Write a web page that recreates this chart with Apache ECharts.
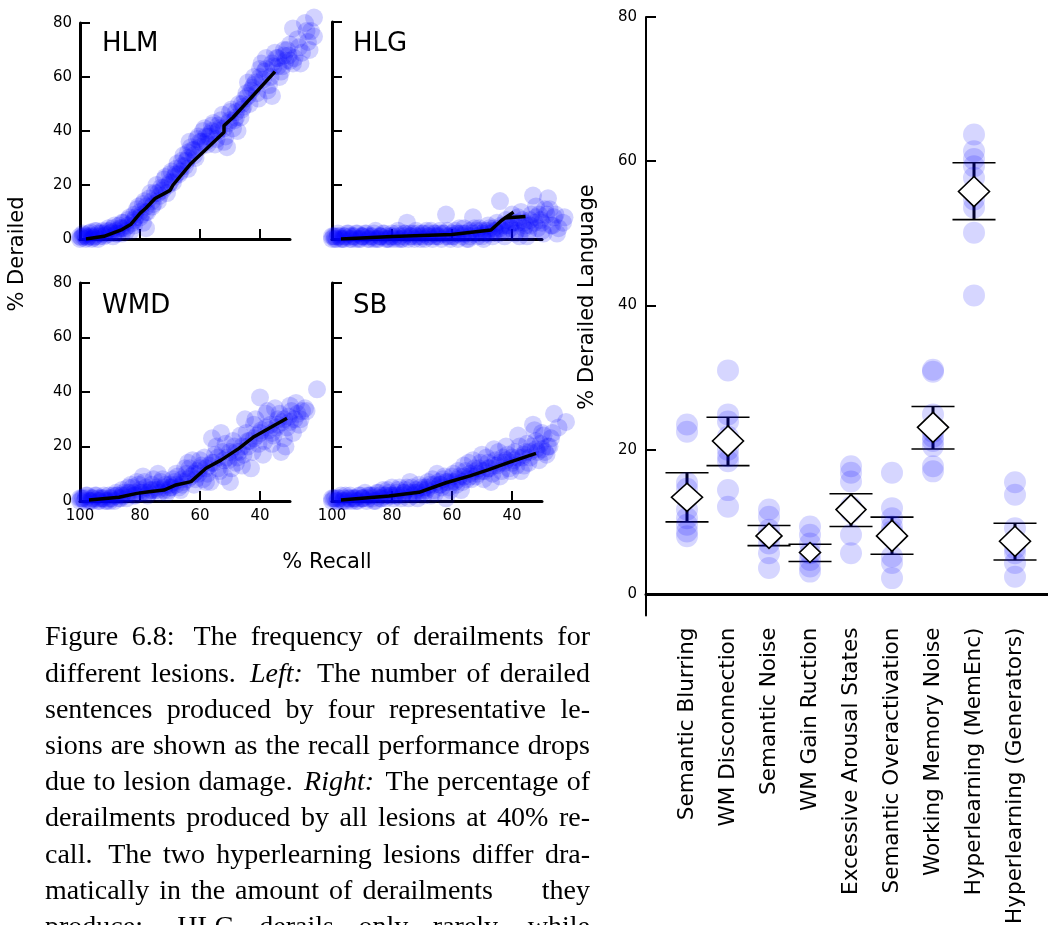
<!DOCTYPE html>
<html>
<head>
<meta charset="utf-8">
<script src="https://cdn.jsdelivr.net/npm/echarts@6/dist/echarts.min.js"></script>
<style>
html,body{margin:0;padding:0;background:#fff;}
#chart{width:1048px;height:925px;}
</style>
</head>
<body>
<div id="chart"></div>
<script>
// ---------------- DATA ----------------
const panelNames = ['HLM', 'HLG', 'WMD', 'SB'];
const recallTicks = [100, 80, 60, 40];
const derailTicks = [0, 20, 40, 60, 80];

// [recall %, derailed %]
const hlmPoints = [[100,0],[99,1],[99,2],[98,0],[97,1],[97,2],[96,0],[95,1],[95,3],[94,0],[93,2],[92,1],[91,3],[90,2],[89,1],[89,4],[88,3],[87,5],[86,2],[86,6],[85,4],[84,7],[83,3],[82,9],[82,5],[81,11],[80,8],[79,13],[79,6],[78,4],[78,10],[77,15],[76,12],[75,17],[74,14],[73,19],[72,22],[71,17],[70,24],[69,21],[68,26],[67,24],[66,29],[65,27],[64,32],[64,26],[63,34],[62,31],[61,37],[60,34],[59,40],[58,36],[57,38],[56,42],[55,35],[54,40],[53,44],[52,36],[51,34],[50,47],[49,41],[48,45],[47,50],[46,48],[45,52],[44,58],[43,55],[42,60],[41,54],[40,63],[39,59],[38,67],[37,57],[36,53],[35,69],[34,64],[33,62],[32,68],[31,70],[30,66],[29,78],[29,65],[27,71],[26,69],[25,80],[24,73],[23,77],[22,82],[22,75],
  [99.5,0.5],[98.5,1.5],[97.5,0.5],[96.5,2.5],[95.5,0.5],[94.5,3],[93.5,1],[92.5,3],[91.5,1.5],[90.5,4],[89.5,2.5],[88.5,5],[87.5,2],[86.5,4],[85.5,6],[84.5,3],[83.5,8],[82.5,6],[81.5,8],[80.5,12],[79.5,9],[78.5,14],[77.5,10],[76.5,17],[75.5,13],[74.5,20],[73.5,16],[72.5,18],[71.5,23],[70.5,20],[69.5,25],[68.5,23],[67.5,28],[66.5,25],[65.5,31],[64.5,29],[63.5,36],[62.5,33],[61.5,30],[60.5,38],[59.5,36],[58.5,41],[57.5,35],[56.5,39],[55.5,43],[54.5,37],[53.5,41],[52.5,46],[51.5,38],[50.5,43],[49.5,48],[48.5,44],[47.5,40],[46.5,45],[45.5,49],[44.5,54],[43.5,50],[42.5,56],[41.5,58],[40.5,52],[39.5,65],[38.5,62],[37.5,55],[36.5,60],[35.5,64],[34.5,67],[33.5,60],[32.5,64],[31.5,66],[30.5,68],[28.5,67],[27.5,74],[26.5,65],[24.5,77],[23.5,70],
  [100,1],[98,1],[96,1],[94,2],[92,2],[90,3],[88,2],[86,4],[84,5],[82,7],[80,10],[78,12],[76,14],[74,17],[72,19],[70,21],[68,24],[66,27],[64,30],[62,33],[60,36],[58,38],[56,40],[54,42],[52,41],[50,44],[48,47],[46,50],[44,53],[42,57],[40,60],[38,63],[36,65],[34,67],[32,70],[30,72]];
const hlmLine = [[98,0],[92,1],[86,3.5],[83,5.5],[80,9.5],[78,11.5],[75,15],[70,18],[69,20],[63,28],[52,39.5],[52,42],[49,45],[35,62]];

const hlgPoints = [[100,0],[99,1],[99,0],[98,2],[97,0],[96,1],[95,2],[94,0],[93,1],[92,2],[91,0],[90,1],[89,2],[88,0],[87,1],[86,2],[85,0],[84,1],[83,2],[82,1],[81,0],[80,2],[79,1],[78,3],[77,0],[76,2],[75,6],[74,1],[73,2],[72,3],[71,1],[70,2],[69,0],[68,1],[67,3],[66,2],[65,1],[64,3],[63,2],[62,9],[61,1],[60,2],[59,3],[58,0],[57,2],[56,4],[55,0],[54,3],[53,8],[52,2],[51,4],[50,1],[49,3],[48,5],[47,2],[46,4],[45,6],[44,14],[43,3],[42,7],[41,5],[40,9],[39,2],[38,6],[37,10],[36,4],[35,1],[34,7],[33,16],[32,12],[31,9],[30,3],[29,11],[28,15],[27,5],[26,8],[25,2],[23,6],
  [99.5,1],[98.5,0],[97.5,1],[96.5,0],[95.5,1],[94.5,2],[93.5,0],[92.5,1],[91.5,2],[90.5,0],[89.5,1],[88.5,2],[87.5,0],[86.5,1],[85.5,3],[84.5,0],[83.5,1],[82.5,2],[81.5,0],[80.5,1],[79.5,0],[78.5,2],[77.5,1],[76.5,0],[75.5,2],[74.5,0],[73.5,1],[72.5,0],[71.5,2],[70.5,0],[69.5,2],[68.5,3],[67.5,1],[66.5,0],[65.5,2],[64.5,1],[63.5,0],[62.5,2],[61.5,3],[60.5,0],[59.5,1],[58.5,2],[57.5,4],[56.5,1],[55.5,2],[54.5,0],[53.5,2],[52.5,4],[51.5,1],[50.5,3],[49.5,0],[48.5,2],[47.5,4],[46.5,1],[45.5,3],[44.5,2],[43.5,5],[42.5,1],[41.5,3],[40.5,4],[39.5,6],[38.5,3],[37.5,1],[36.5,7],[35.5,5],[34.5,3],[33.5,9],[32.5,6],[31.5,4],[30.5,7],[29.5,2],[28.5,9],[27.5,11],[26.5,5],[25.5,9],[24.5,4],[22.5,8],
  [100,1],[98,1],[96,0],[94,1],[92,0],[90,1],[88,1],[86,0],[84,1],[82,0],[80,1],[78,0],[76,1],[74,2],[72,1],[70,1],[68,2],[66,1],[64,2],[62,1],[60,1],[58,2],[56,2],[54,1],[52,3],[50,2],[48,3],[46,3],[44,4],[42,5],[40,6],[38,8],[36,6],[34,5],[32,8],[30,6]];
const hlgLine = [[97,0],[80,0.9],[60,1.7],[47,3.3],[43.5,6.8],[39.5,9.9],[42.5,7.7],[35.5,8.3]];

const wmdPoints = [[100,0],[99,1],[98,2],[97,0],[96,1],[95,2],[94,0],[93,1],[92,2],[91,0],[90,1],[89,2],[88,3],[87,1],[86,4],[85,2],[84,5],[83,6],[82,3],[81,7],[80,4],[79,9],[78,5],[77,3],[76,6],[75,4],[74,10],[73,7],[72,5],[71,3],[70,6],[69,8],[68,10],[67,5],[66,8],[65,12],[64,14],[63,9],[62,6],[61,11],[60,15],[59,8],[58,7],[57,13],[56,23],[55,17],[54,12],[53,25],[52,9],[51,16],[50,7],[49,22],[48,14],[47,18],[46,13],[45,30],[44,20],[43,12],[42,28],[41,24],[40,38],[39,17],[38,32],[37,26],[36,21],[35,34],[34,30],[33,18],[32,23],[31,27],[30,35],[29,25],[28,36],[27,28],[26,33],[25,34],[21,41],
  [99.5,1],[98.5,0],[97.5,2],[96.5,0],[95.5,1],[94.5,2],[93.5,0],[92.5,1],[91.5,0],[90.5,2],[89.5,1],[88.5,0],[87.5,2],[86.5,1],[85.5,3],[84.5,1],[83.5,3],[82.5,5],[81.5,2],[80.5,6],[79.5,3],[78.5,7],[77.5,2],[76.5,4],[75.5,8],[74.5,5],[73.5,3],[72.5,8],[71.5,6],[70.5,4],[69.5,5],[68.5,7],[67.5,9],[66.5,4],[65.5,7],[64.5,10],[63.5,12],[62.5,15],[61.5,8],[60.5,10],[59.5,13],[58.5,16],[57.5,10],[56.5,7],[55.5,14],[54.5,20],[53.5,11],[52.5,18],[51.5,21],[50.5,15],[49.5,12],[48.5,20],[47.5,16],[46.5,24],[45.5,17],[44.5,25],[43.5,22],[42.5,18],[41.5,30],[40.5,21],[39.5,26],[38.5,22],[37.5,33],[36.5,28],[35.5,24],[34.5,27],[33.5,32],[32.5,29],[31.5,20],[30.5,31],[29.5,33],[28.5,30],[27.5,32],[26.5,30],[24.5,33],
  [100,1],[98,1],[96,0],[94,1],[92,1],[90,0],[88,2],[86,2],[84,3],[82,2],[80,3],[78,3],[76,4],[74,4],[72,4],[70,5],[68,6],[66,6],[64,8],[62,10],[60,12],[58,12],[56,14],[54,16],[52,15],[50,18],[48,18],[46,20],[44,22],[42,23],[40,25],[38,27],[36,25],[34,28],[32,30],[30,29]];
const wmdLine = [[97,0.4],[87,1.4],[81,2.8],[77,3.4],[72,4],[68,5.9],[63,7.1],[58,12],[53,15],[47,19.3],[42,23.6],[31,30.4]];

const sbPoints = [[100,0],[99,1],[98,0],[97,2],[96,1],[95,0],[94,2],[93,1],[92,0],[91,2],[90,1],[89,3],[88,1],[87,2],[86,0],[85,3],[84,2],[83,4],[82,1],[81,3],[80,5],[79,2],[78,4],[77,1],[76,3],[75,5],[74,7],[73,2],[72,4],[71,6],[70,3],[69,5],[68,7],[67,2],[66,4],[65,10],[64,6],[63,8],[62,1],[61,5],[60,9],[59,7],[58,11],[57,4],[56,13],[55,8],[54,10],[53,15],[52,9],[51,12],[50,17],[49,11],[48,14],[47,7],[46,19],[45,13],[44,9],[43,16],[42,20],[41,12],[40,14],[39,18],[38,24],[37,11],[36,13],[35,21],[34,16],[33,28],[32,22],[31,15],[30,25],[29,18],[28,20],[27,23],[26,32],[22,29],
  [99.5,1],[98.5,0],[97.5,1],[96.5,0],[95.5,2],[94.5,1],[93.5,0],[92.5,1],[91.5,0],[90.5,2],[89.5,1],[88.5,0],[87.5,2],[86.5,1],[85.5,0],[84.5,3],[83.5,1],[82.5,2],[81.5,4],[80.5,2],[79.5,1],[78.5,3],[77.5,5],[76.5,2],[75.5,4],[74.5,1],[73.5,5],[72.5,3],[71.5,1],[70.5,5],[69.5,2],[68.5,4],[67.5,6],[66.5,8],[65.5,3],[64.5,7],[63.5,5],[62.5,9],[61.5,7],[60.5,4],[59.5,10],[58.5,6],[57.5,9],[56.5,7],[55.5,11],[54.5,14],[53.5,8],[52.5,12],[51.5,10],[50.5,14],[49.5,8],[48.5,16],[47.5,12],[46.5,10],[45.5,15],[44.5,18],[43.5,11],[42.5,14],[41.5,17],[40.5,11],[39.5,15],[38.5,13],[37.5,20],[36.5,16],[35.5,18],[34.5,14],[33.5,20],[32.5,26],[31.5,18],[30.5,21],[29.5,24],[28.5,17],[27.5,20],[26.5,25],[24.5,27],
  [100,1],[98,1],[96,0],[94,1],[92,1],[90,1],[88,2],[86,2],[84,1],[82,2],[80,2],[78,2],[76,3],[74,3],[72,3],[70,4],[68,5],[66,6],[64,6],[62,7],[60,7],[58,8],[56,9],[54,9],[52,11],[50,11],[48,12],[46,13],[44,14],[42,15],[40,16],[38,16],[36,17],[34,18],[32,19],[30,19]];
const sbLine = [[97,0.4],[81,1.8],[71,3.2],[62,6.7],[54,9.2],[48,11.4],[41,14.2],[32,17.5]];

const lesions = ['Semantic Blurring','WM Disconnection','Semantic Noise','WM Gain Ruction','Excessive Arousal States','Semantic Overactivation','Working Memory Noise','Hyperlearning (MemEnc)','Hyperlearning (Generators)'];
const lesionSamples = [
  [23.5,22.5,15.4,14.6,11.7,10.5,9.6,8.65,8.0],
  [31.0,24.9,23.9,21.8,20.0,19.1,18.4,14.4,12.1],
  [11.7,10.7,8.9,8.0,7.0,5.65,3.6],
  [9.35,8.2,7.0,5.65,4.7,3.8,3.1],
  [17.7,16.8,15.6,12.1,11.4,8.2,5.65],
  [16.8,11.9,10.5,9.35,8.65,5.2,4.3,2.2],
  [31.1,30.8,24.9,22.5,21.8,21.2,20.5,17.7,17.0],
  [63.7,61.4,60.3,59.3,57.7,55.9,54.7,53.6,50.1,41.4],
  [15.5,13.75,9.1,7.3,6.35,5.65,4.3,2.4]
];
const lesionMeans = [13.4, 21.2, 8.05, 5.75, 11.7, 8.05, 23.1, 55.8, 7.3];
const lesionLow   = [10.0, 17.8, 6.7, 4.5, 9.35, 5.5, 20.1, 51.9, 4.7];
const lesionHigh  = [16.8, 24.5, 9.5, 6.9, 13.9, 10.65, 26.0, 59.8, 9.8];
const percentTicks = [0, 20, 40, 60, 80];

const captionLines = [
  'Figure 6.8: The frequency of derailments for',
  'different lesions. _Left:_ The number of derailed',
  'sentences produced by four representative le-',
  'sions are shown as the recall performance drops',
  'due to lesion damage. _Right:_ The percentage of',
  'derailments produced by all lesions at 40% re-',
  'call. The two hyperlearning lesions differ dra-',
  'matically in the amount of derailments|they',
  'produce: HLG derails only rarely, while'
];

// ---------------- STYLE / LAYOUT ----------------
const SANS = '"DejaVu Sans", sans-serif';
const SERIF = '"Liberation Serif", "Times New Roman", serif';
const diamondSizes = [[31,28],[31,30],[26,25],[21,20],[30,30],[31,31],[31,30],[31,30],[31,30]];
const panelGrids = [
  {left: 80, top: 23, width: 210, height: 216},
  {left: 332, top: 22, width: 210, height: 217},
  {left: 80, top: 283, width: 210, height: 218},
  {left: 332, top: 283, width: 210, height: 218}
];
const panelPoints = [hlmPoints, hlgPoints, wmdPoints, sbPoints];
const panelLines = [hlmLine, hlgLine, wmdLine, sbLine];
const titlePos = [[102, 44], [353, 44], [102, 306], [353, 306]];

const grids = panelGrids.concat([{left: 646, top: 17, width: 410, height: 598.6}])
  .map(g => Object.assign({outerBoundsMode: 'none', containLabel: false}, g));
const xAxes = [], yAxes = [], series = [];
panelGrids.forEach((g, i) => {
  xAxes.push({
    gridIndex: i, type: 'value', min: 30, max: 100, inverse: true,
    axisLine: {show: true, onZero: false, lineStyle: {color: '#000', width: 3}},
    axisTick: {show: true, inside: true, length: 10, customValues: recallTicks, lineStyle: {color: '#000', width: 2}},
    axisLabel: {show: i >= 2, customValues: recallTicks, color: '#000', fontSize: 15, fontFamily: SANS, margin: 8},
    splitLine: {show: false}
  });
  yAxes.push({
    gridIndex: i, type: 'value', min: 0, max: 80, interval: 20,
    axisLine: {show: true, onZero: false, lineStyle: {color: '#000', width: 3}},
    axisTick: {show: true, inside: true, length: 10, lineStyle: {color: '#000', width: 2}},
    axisLabel: {show: i % 2 === 0, color: '#000', fontSize: 15, fontFamily: SANS, margin: 8},
    splitLine: {show: false}
  });
  series.push({
    type: 'scatter', xAxisIndex: i, yAxisIndex: i, data: panelPoints[i],
    symbolSize: 18, clip: false, silent: true,
    itemStyle: {color: 'rgba(0,0,255,0.22)'}
  });
  series.push({
    type: 'line', xAxisIndex: i, yAxisIndex: i, data: panelLines[i],
    showSymbol: false, symbol: 'none', smooth: false, silent: true,
    lineStyle: {color: '#000', width: 3.5}
  });
});

// right panel
xAxes.push({
  gridIndex: 4, type: 'value', min: 0, max: 10,
  axisLine: {show: true, onZero: true, lineStyle: {color: '#000', width: 3}},
  axisTick: {show: false},
  axisLabel: {
    customValues: lesions.map((_, i) => i + 1),
    formatter: v => lesions[Math.round(v) - 1] || '',
    rotate: 90, color: '#000', fontSize: 21.5, fontFamily: SANS, margin: 12
  },
  splitLine: {show: false}
});
yAxes.push({
  gridIndex: 4, type: 'value', min: -3, max: 80,
  axisLine: {show: true, onZero: false, lineStyle: {color: '#000', width: 2}},
  axisTick: {show: true, inside: true, length: 10, customValues: percentTicks, lineStyle: {color: '#000', width: 2}},
  axisLabel: {customValues: percentTicks, color: '#000', fontSize: 15, fontFamily: SANS, margin: 9},
  splitLine: {show: false}
});

const sampleData = [];
lesionSamples.forEach((arr, i) => arr.forEach(v => sampleData.push([i + 1, v])));
series.push({
  type: 'scatter', xAxisIndex: 4, yAxisIndex: 4, data: sampleData,
  symbolSize: 22, silent: true, clip: false,
  itemStyle: {color: 'rgba(0,0,255,0.2)'}
});
series.push({
  type: 'custom', xAxisIndex: 4, yAxisIndex: 4, silent: true, clip: false,
  data: lesions.map((_, i) => [i + 1, lesionLow[i], lesionHigh[i]]),
  encode: {x: 0, y: [1, 2]},
  renderItem: function (params, api) {
    const x = api.value(0);
    const pLo = api.coord([x, api.value(1)]);
    const pHi = api.coord([x, api.value(2)]);
    const half = api.size([1.05, 0])[0] / 2;
    return {
      type: 'group',
      children: [
        {type: 'line', shape: {x1: pLo[0], y1: pLo[1], x2: pHi[0], y2: pHi[1]}, style: {stroke: '#000', lineWidth: 3}},
        {type: 'line', shape: {x1: pLo[0] - half, y1: pLo[1], x2: pLo[0] + half, y2: pLo[1]}, style: {stroke: '#000', lineWidth: 1.6}},
        {type: 'line', shape: {x1: pHi[0] - half, y1: pHi[1], x2: pHi[0] + half, y2: pHi[1]}, style: {stroke: '#000', lineWidth: 1.6}}
      ]
    };
  }
});
series.push({
  type: 'scatter', xAxisIndex: 4, yAxisIndex: 4, silent: true,
  data: lesionMeans.map((v, i) => [i + 1, v]),
  symbol: 'diamond',
  symbolSize: (val, p) => diamondSizes[p.dataIndex],
  itemStyle: {color: '#fff', borderColor: '#000', borderWidth: 1.6, opacity: 1},
  z: 5
});

// ---------------- TEXT GRAPHICS ----------------
const graphics = [];
function addText(text, x, y, font, opts) {
  opts = opts || {};
  const align = opts.align || 'left';
  graphics.push({
    type: 'text', x: x, y: y, rotation: opts.rotation || 0, silent: true,
    style: {text: text, font: font, fill: '#000', align: align, textAlign: align,
            verticalAlign: 'middle', textVerticalAlign: 'middle'}
  });
}
panelNames.forEach((n, i) => addText(n, titlePos[i][0], titlePos[i][1], '26px ' + SANS));
addText('% Derailed', 18, 254, '21px ' + SANS, {align: 'center', rotation: Math.PI / 2});
addText('% Recall', 327, 563, '21px ' + SANS, {align: 'center'});
addText('% Derailed Language', 588, 297, '21px ' + SANS, {align: 'center', rotation: Math.PI / 2});

// caption, justified word by word
(function () {
  const ctx = document.createElement('canvas').getContext('2d');
  const size = 28, left = 45, right = 590, y0 = 638, lh = 36.2, splitEnd = 493;
  function fontOf(it) { return (it ? 'italic ' : '') + size + 'px ' + SERIF; }
  function parse(str) {
    return str.split(' ').filter(Boolean).map(w => {
      const it = /^_.*_$/.test(w);
      const t = it ? w.slice(1, -1) : w;
      ctx.font = fontOf(it);
      return {t: t, it: it, w: ctx.measureText(t).width};
    });
  }
  function justify(words, x0, x1, y) {
    const total = words.reduce((s, w) => s + w.w, 0);
    const weights = words.slice(0, -1).map(w => /[.:]$/.test(w.t) ? 1.4 : 1);
    const wsum = weights.reduce((a, b) => a + b, 0) || 1;
    const unit = (x1 - x0 - total) / wsum;
    let x = x0;
    words.forEach((w, i) => {
      addText(w.t, x, y, fontOf(w.it));
      x += w.w + (i < weights.length ? unit * weights[i] : 0);
    });
  }
  captionLines.forEach((line, li) => {
    const y = y0 + li * lh;
    if (line.indexOf('|') >= 0) {
      const parts = line.split('|');
      justify(parse(parts[0]), left, splitEnd, y);
      parse(parts[1]).forEach(w => addText(w.t, right, y, fontOf(w.it), {align: 'right'}));
      return;
    }
    justify(parse(line), left, right, y);
  });
})();

const chart = echarts.init(document.getElementById('chart'), null, {renderer: 'canvas'});
chart.setOption({
  animation: false,
  backgroundColor: '#fff',
  grid: grids,
  xAxis: xAxes,
  yAxis: yAxes,
  series: series,
  graphic: {elements: graphics}
});
</script>
</body>
</html>
